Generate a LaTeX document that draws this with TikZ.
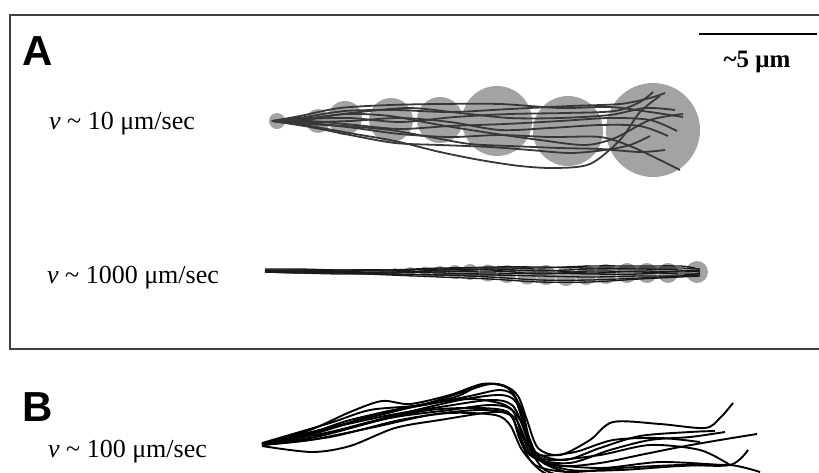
\documentclass[tikz,border=0pt]{standalone}
\usepackage{fontspec}
\setmainfont{Liberation Serif}
\newfontfamily\panelfont{Liberation Sans}
\usepackage{tikz}
\usetikzlibrary{positioning}

\begin{document}
\begin{tikzpicture}[x=1pt, y=-1pt,
  spot/.style={fill=gray!72},
  slow/.style={draw=black!78, line width=1.8pt, line join=round},
  fast/.style={draw=black!90, line width=1.3pt, line join=round},
  mid/.style={draw=black, line width=1.9pt, line join=round},
  lbl/.style={font=\fontsize{26}{30}\selectfont, anchor=base west, inner sep=0pt},
  panel/.style={font=\panelfont\bfseries\fontsize{42}{46}\selectfont,
                anchor=base west, inner sep=0pt}
]
  \useasboundingbox (0,0) rectangle (819,472);
  \clip (0,0) rectangle (819,472);

  %% Panel A frame (open to the right)
  \draw[black!75, line width=2pt] (819,15) -- (10,15) -- (10,349) -- (819,349);

  %% Labels
  \node[panel] (labA) at (22,65) {A};
  \node[panel] (labB) at (22,421) {B};
  \node[lbl] (slow) at (49,129) {\textit{v} \textasciitilde{} 10 μm/sec};
  \node[lbl] (fast) at (47,283) {\textit{v} \textasciitilde{} 1000 μm/sec};
  \node[lbl] (mid)  at (48,457) {\textit{v} \textasciitilde{} 100 μm/sec};

  %% Scale bar
  \coordinate (barL) at (699,34);
  \coordinate (barR) at (817,34);
  \draw[line width=2.5pt] (barL) -- (barR);
  \node[font=\bfseries\fontsize{25}{28}\selectfont, anchor=base] (bar)
    at (757,67) {\textasciitilde5 μm};

  %% v ~ 10: diffusion spots
  \foreach \cx/\cy/\r in {277/121/8, 318/121/12, 345/118/17, 391/120/22,
                         440/120/23, 497/121/35, 568/131/35, 653/130/47}
    \fill[spot] (\cx,\cy) circle (\r);

  %% v ~ 10: trajectories
  \draw[slow] plot[smooth] coordinates {(272,121) (300,116) (340,108) (390,105) (440,104) (500,104) (560,108) (610,107) (650,112) (683,117)};
  \draw[slow] plot[smooth] coordinates {(272,121) (305,117) (345,111) (395,110) (450,112) (510,109) (570,106) (620,104) (650,98) (665,93)};
  \draw[slow] plot[smooth] coordinates {(272,121) (305,119) (350,118) (400,122) (455,117) (510,114) (565,113) (615,111) (640,102) (653,92)};
  \draw[slow] plot[smooth] coordinates {(272,121) (310,121) (355,125) (400,129) (450,126) (505,124) (560,121) (610,118) (650,120) (677,131)};
  \draw[slow] plot[smooth] coordinates {(272,121) (310,123) (355,128) (400,134) (450,137) (500,135) (550,137) (600,137) (630,146) (660,160) (680,170)};
  \draw[slow] plot[smooth] coordinates {(272,121) (310,126) (355,134) (395,141) (440,152) (480,160) (520,166) (555,168) (590,164) (620,140) (640,112) (660,96)};
  \draw[slow] plot[smooth] coordinates {(272,121) (305,122) (350,121) (400,118) (450,122) (500,130) (550,128) (600,125) (640,126) (668,136)};
  \draw[slow] plot[smooth] coordinates {(272,121) (305,120) (345,114) (390,116) (440,125) (490,133) (540,140) (585,145) (615,138) (650,120) (683,114)};
  \draw[slow] plot[smooth] coordinates {(272,121) (310,118) (360,112) (410,108) (460,113) (510,118) (560,118) (610,115) (645,108) (675,110)};
  \draw[slow] plot[smooth] coordinates {(272,121) (310,127) (350,135) (395,143) (440,145) (490,147) (530,150) (570,153) (605,150) (630,145) (650,136)};
  \draw[slow] plot[smooth] coordinates {(272,121) (305,124) (345,126) (390,130) (430,137) (470,144) (510,146) (560,148) (600,149) (640,152) (665,150)};

  %% v ~ 1000: diffusion spots
  \foreach \cx/\cy/\r in {395/272/4, 410/272/5, 425/272/5.5, 440/272/6,
                         455/272/7, 470/272/8, 488/273/8.5, 507/274/9,
                         527/275/9.5, 546/275/10, 566/276/10, 586/275/10,
                         606/274/10, 627/273/10, 647/273/10, 668/273/10,
                         697/272/11}
    \fill[spot] (\cx,\cy) circle (\r);

  %% v ~ 1000: trajectories
  \draw[fast] plot[smooth] coordinates {(265,269) (300,269) (340,270) (390,270) (440,269) (490,267) (540,267) (590,268) (640,268) (680,268) (700,269)};
  \draw[fast] plot[smooth] coordinates {(265,272) (300,273) (340,274) (390,274) (440,275) (490,277) (540,280) (590,280) (640,278) (680,276) (700,273)};
  \draw[fast] plot[smooth] coordinates {(265,271) (300,270) (340,272) (390,272) (440,271) (490,272) (540,270) (590,273) (640,271) (680,272) (700,271)};
  \draw[fast] plot[smooth] coordinates {(265,272) (300,273) (340,272) (390,274) (440,275) (490,275) (540,276) (590,277) (640,276) (680,276) (700,275)};
  \draw[fast] plot[smooth] coordinates {(265,270) (300,271) (340,270) (390,270) (440,272) (490,269) (540,271) (590,269) (640,269) (680,270) (700,272)};
  \draw[fast] plot[smooth] coordinates {(265,272) (300,272) (340,273) (390,275) (440,277) (490,279) (540,282) (590,282) (640,279) (680,277) (700,276)};
  \draw[fast] plot[smooth] coordinates {(265,270) (300,270) (340,271) (390,270) (440,268) (490,268) (540,268) (590,266) (640,266) (680,266) (695,268)};
  \draw[fast] plot[smooth] coordinates {(265,271) (300,271) (340,273) (390,272) (440,273) (490,274) (540,273) (590,274) (640,274) (680,271) (700,270)};
  \draw[fast] plot[smooth] coordinates {(265,271) (300,272) (340,271) (390,273) (440,270) (490,270) (540,274) (590,271) (640,272) (680,274) (700,274)};

  %% v ~ 100: trajectories
  \draw[mid] plot[smooth] coordinates {(262,444) (310,430) (350,412) (382,401) (410,404) (450,395) (482,384) (505,386) (518,396) (527,420) (538,448) (560,455) (590,440) (613,422) (660,424) (705,428) (720,418) (733,403)};
  \draw[mid] plot[smooth] coordinates {(262,444) (320,432) (380,413) (430,404) (470,396) (500,390) (515,397) (525,425) (535,452) (565,460) (600,448) (640,436) (690,432) (715,431)};
  \draw[mid] plot[smooth] coordinates {(262,445) (320,436) (390,418) (450,410) (490,405) (512,410) (522,435) (535,458) (570,463) (610,450) (650,440) (690,437) (725,432)};
  \draw[mid] plot[smooth] coordinates {(262,444) (310,438) (370,422) (430,410) (480,408) (508,412) (518,430) (530,455) (560,466) (600,463) (640,455) (680,447) (720,440) (757,434)};
  \draw[mid] plot[smooth] coordinates {(262,445) (310,440) (370,428) (430,415) (480,410) (510,415) (520,440) (535,465) (570,472) (620,468) (680,465) (730,465) (748,450)};
  \draw[mid] plot[smooth] coordinates {(262,446) (312,452) (350,446) (395,428) (440,420) (495,412) (515,418) (528,445) (545,470) (580,480)};
  \draw[mid] plot[smooth] coordinates {(262,444) (330,428) (390,415) (440,407) (490,400) (512,405) (524,428) (538,458) (570,470) (620,470) (680,466) (730,465) (760,472)};
  \draw[mid] plot[smooth] coordinates {(262,444) (330,432) (400,414) (460,400) (500,395) (516,402) (526,430) (542,462) (580,476)};
  \draw[mid] plot[smooth] coordinates {(262,445) (330,437) (400,420) (450,413) (495,415) (510,425) (522,450) (540,470) (560,480)};
  \draw[mid] plot[smooth] coordinates {(262,444) (300,437) (350,420) (420,405) (470,399) (505,405) (520,420) (532,450) (550,460) (600,455) (650,445) (700,450) (730,465)};
  \draw[mid] plot[smooth] coordinates {(262,443) (330,423) (370,410) (420,405) (460,393) (490,384) (508,388) (522,410) (530,440) (545,462) (600,468) (660,462) (720,465)};
  \draw[mid] plot[smooth] coordinates {(262,444) (340,425) (400,410) (455,397) (478,386) (495,384) (512,391) (520,412) (528,438) (540,455) (575,452) (613,440) (660,438) (700,442)};
\end{tikzpicture}
\end{document}
